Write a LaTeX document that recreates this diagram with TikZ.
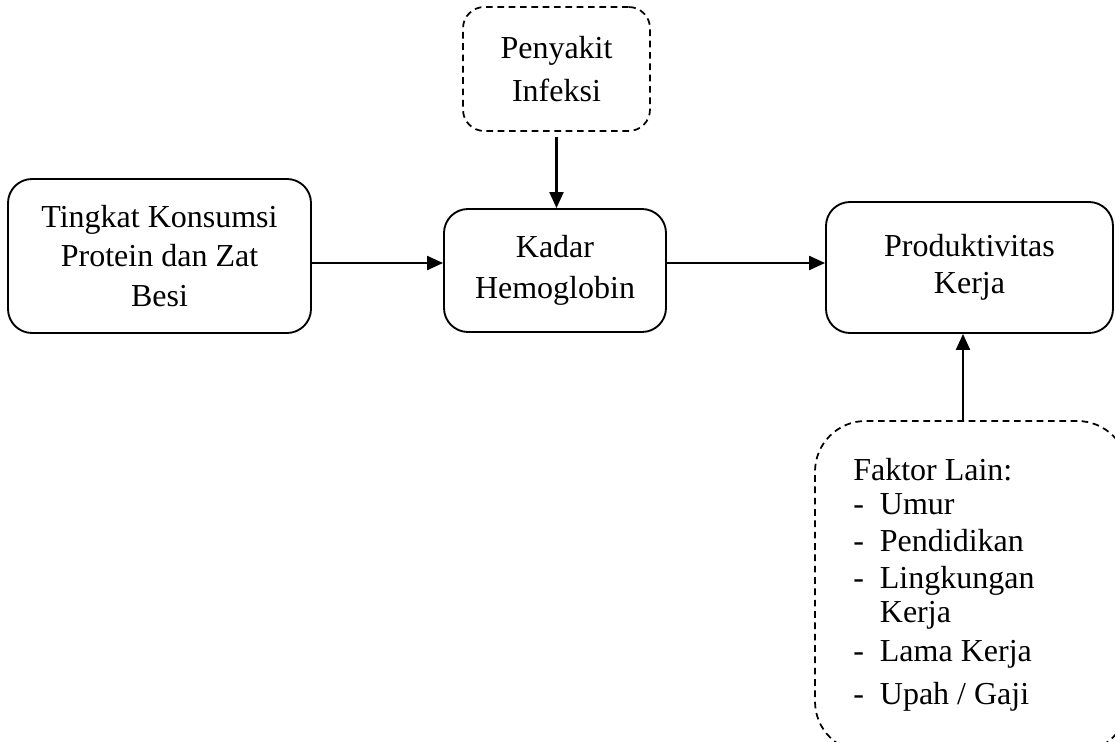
\documentclass[tikz,border=0pt]{standalone}
\usepackage{fontspec}
\setmainfont{Liberation Serif}
\usetikzlibrary{arrows.meta}
\begin{document}
\begin{tikzpicture}[x=0.75pt,y=-0.75pt,
  every node/.style={font=\fontsize{24pt}{27.75pt}\selectfont},
  boxa/.style={draw, line width=1.4pt, rounded corners=18pt, align=center, inner sep=0pt},
  dbox/.style={draw, line width=1.3pt, dash pattern=on 5pt off 3.5pt, align=center, inner sep=0pt},
  arr/.style={line width=1.6pt, -{Triangle[length=12pt,width=10.5pt]}}
]
\useasboundingbox (0,0) rectangle (1115,742);
\node[boxa, minimum width=227.25pt, minimum height=115.5pt] (b1) at (159.5,256)
  {Tingkat Konsumsi\\[2pt]Protein dan Zat\\[2pt]Besi};
\node[boxa, minimum width=166.5pt, minimum height=92.25pt] (b2) at (555,270.5)
  {Kadar\\[3pt]Hemoglobin};
\node[boxa, minimum width=215.25pt, minimum height=98.25pt] (b3) at (969.5,267.5)
  {Produktivitas\\Kerja};
\node[dbox, rounded corners=16pt, minimum width=140.25pt, minimum height=93pt] (pk) at (556.5,69)
  {Penyakit\\[5pt]Infeksi};
\node[dbox, rounded corners=38pt, minimum width=234.75pt, minimum height=248.25pt] (fk) at (971.5,586.5) {};
\node[anchor=north west, inner sep=0pt, align=left] (fkt) at (853,454)
  {\begin{tabular}{@{}l@{\ \ }l@{}}
   \multicolumn{2}{@{}l}{Faktor Lain:}\\[-2pt]
   - & Umur\\
   - & Pendidikan\\
   - & Lingkungan\\[-2.5pt]
     & Kerja\\[2pt]
   - & Lama Kerja\\[4pt]
   - & Upah / Gaji
   \end{tabular}};
\coordinate (ay) at (0,263);
\coordinate (ax) at (963,0);
\draw[arr] (b1.east |- ay) -- (b2.west |- ay);
\draw[arr] (b2.east |- ay) -- (b3.west |- ay);
\draw[arr, shorten <=4pt] (pk.south) -- (pk.south |- b2.north);
\draw[arr] (fk.north -| ax) -- (b3.south -| ax);
\end{tikzpicture}
\end{document}
